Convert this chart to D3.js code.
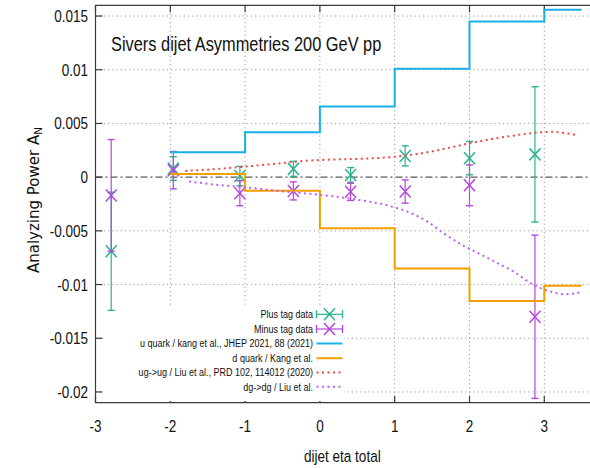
<!DOCTYPE html>
<html>
<head>
<meta charset="utf-8">
<script src="https://cdn.jsdelivr.net/npm/d3@7"></script>
<style>
  html, body { margin: 0; padding: 0; background: #fff; }
  svg { display: block; }
  text { font-family: "Liberation Sans", Arial, sans-serif; fill: #111; }
</style>
</head>
<body>
<svg id="chart" width="590" height="468"></svg>
<script>
// ---- data -------------------------------------------------------------
const xTicks = [-3, -2, -1, 0, 1, 2, 3];
const yTicks = [0.015, 0.01, 0.005, 0, -0.005, -0.01, -0.015, -0.02];
const yTickLabels = ["0.015", "0.01", "0.005", "0", "-0.005", "-0.01", "-0.015", "-0.02"];

// measured points (eta bins)
const dataEta  = [-2.79, -1.96, -1.07, -0.355, 0.41, 1.14, 2.0, 2.875];
const plusVal  = [-0.0069, 0.0008, 0.0001, 0.00077, 0.00021, 0.00198, 0.00177, 0.00212];
const plusErr  = [0.0055, 0.0011, 0.0009, 0.0007, 0.00068, 0.00093, 0.00155, 0.0063];
const minusVal = [-0.0017, 0.00065, -0.0015, -0.00128, -0.00137, -0.00134, -0.00076, -0.0130];
const minusErr = [0.0052, 0.00174, 0.00116, 0.00084, 0.0008, 0.00108, 0.0019, 0.0076];

// Kang et al. step predictions
const stepEdges = [-2, -1, 0, 1, 2, 3, 3.5];
const uQuark = [0.00232, 0.00419, 0.00657, 0.0101, 0.01449, 0.01558, 0.01558];
const dQuark = [0.00030, -0.00127, -0.00475, -0.00851, -0.01153, -0.01012, -0.01012];

// Liu et al. curves
const ugEta = [-1.8, -1.4, -1.0, -0.6, -0.2, 0.2, 0.6, 1.0, 1.3, 1.6, 2.0, 2.3, 2.6, 2.9, 3.1, 3.3, 3.45];
const ugVal = [0.00058, 0.00075, 0.00098, 0.00125, 0.00152, 0.00165, 0.00172, 0.0019, 0.00215, 0.00254, 0.00315, 0.00355, 0.00388, 0.00415, 0.00422, 0.00408, 0.00388];
const dgEta = [-1.75, -1.4, -1.0, -0.6, -0.3, 0, 0.5, 0.95, 1.2, 1.45, 1.65, 1.9, 2.18, 2.4, 2.59, 2.85, 3.08, 3.28, 3.5];
const dgVal = [-0.0004, -0.0007, -0.00095, -0.00125, -0.00145, -0.00165, -0.0021, -0.00272, -0.0033, -0.0042, -0.0052, -0.0063, -0.0073, -0.0081, -0.0088, -0.0100, -0.01065, -0.0109, -0.0107];

const legendLabels = [
  "Plus tag data",
  "Minus tag data",
  "u quark / kang et al., JHEP 2021, 88 (2021)",
  "d quark / Kang et al.",
  "ug->ug / Liu et al., PRD 102, 114012 (2020)",
  "dg->dg / Liu et al."
];

const colors = {
  plus: "#2bb48c",
  minus: "#b347e0",
  u: "#1ab0e6",
  d: "#f2a000",
  ug: "#f24848",
  dg: "#c25cf0"
};

// ---- layout ------------------------------------------------------------
const svg = d3.select("#chart");
const plotLeft = 95.5, plotTop = 5.3, plotBottom = 402.7;
const x = d3.scaleLinear().domain([-3, 3.65]).range([plotLeft, plotLeft + 6.65 * 74.8]);
const y = d3.scaleLinear().domain([-0.021, 0.016]).range([plotBottom, plotTop]);
const plotRight = x(3.65);
const squeeze = 0.82;   // condensed lettering
const place = (px, py, k = squeeze) => `translate(${px},${py}) scale(${k},1)`;

// grid
const grid = svg.append("g").attr("stroke", "#9a9a9a").attr("stroke-width", 1)
  .attr("stroke-dasharray", "1.2,3");
xTicks.filter(v => v > -3).forEach(v => {
  grid.append("line").attr("x1", x(v)).attr("x2", x(v)).attr("y1", plotTop).attr("y2", plotBottom);
});
yTicks.filter(v => v !== 0).forEach(v => {
  grid.append("line").attr("x1", plotLeft).attr("x2", plotRight).attr("y1", y(v)).attr("y2", y(v));
});

// zero axis
svg.append("line").attr("x1", plotLeft).attr("x2", plotRight).attr("y1", y(0)).attr("y2", y(0))
  .attr("stroke", "#5a5a5a").attr("stroke-width", 1.3).attr("stroke-dasharray", "7,3,2,3");

// frame and ticks
const frame = svg.append("g").attr("stroke", "#3a3a3a").attr("stroke-width", 1.2).attr("fill", "none");
frame.append("path").attr("d", `M${plotRight},${plotTop}H${plotLeft}V${plotBottom}H${plotRight}`);
const tl = 7;
yTicks.forEach(v => {
  frame.append("line").attr("x1", plotLeft).attr("x2", plotLeft + tl).attr("y1", y(v)).attr("y2", y(v));
});
xTicks.forEach(v => {
  frame.append("line").attr("x1", x(v)).attr("x2", x(v)).attr("y1", plotBottom).attr("y2", plotBottom - tl);
  frame.append("line").attr("x1", x(v)).attr("x2", x(v)).attr("y1", plotTop).attr("y2", plotTop + tl);
});

// tick labels
svg.append("g").selectAll("text").data(yTicks).join("text")
  .attr("transform", d => place(88, y(d))).attr("dy", "0.36em")
  .attr("text-anchor", "end").attr("font-size", 16.5)
  .text((d, i) => yTickLabels[i]);
svg.append("g").selectAll("text").data(xTicks).join("text")
  .attr("transform", d => place(x(d), 432))
  .attr("text-anchor", "middle").attr("font-size", 16.5)
  .text(d => String(d));

// axis titles
svg.append("text").attr("transform", place(x(0.3), 462)).attr("text-anchor", "middle")
  .attr("font-size", 16.5).text("dijet eta total");
const yl = svg.append("text")
  .attr("transform", "translate(38.5,200) rotate(-90)")
  .attr("text-anchor", "middle")
  .style("font-family", "'DejaVu Sans', sans-serif")
  .attr("font-size", 15);
yl.append("tspan").text("Analyzing Power A");
yl.append("tspan").attr("font-size", 10.5).attr("dy", 3).text("N");

// title
svg.append("text").attr("transform", place(111, 51, 0.78)).attr("font-size", 21)
  .text("Sivers dijet Asymmetries 200 GeV pp");

// opaque legend box (under the data marks)
svg.append("rect").attr("x", 103).attr("y", 306).attr("width", 241).attr("height", 95)
  .attr("fill", "#fff");

// ---- marks -------------------------------------------------------------
function errorSeries(vals, errs, color) {
  const g = svg.append("g").attr("stroke", color).attr("fill", "none");
  dataEta.forEach((e, i) => {
    const cx = x(e), cy = y(vals[i]);
    const y1 = y(vals[i] + errs[i]), y2 = y(vals[i] - errs[i]);
    g.append("line").attr("x1", cx).attr("x2", cx).attr("y1", y1).attr("y2", y2).attr("stroke-width", 1.2);
    g.append("line").attr("x1", cx - 3.5).attr("x2", cx + 3.5).attr("y1", y1).attr("y2", y1).attr("stroke-width", 1.4);
    g.append("line").attr("x1", cx - 3.5).attr("x2", cx + 3.5).attr("y1", y2).attr("y2", y2).attr("stroke-width", 1.4);
    g.append("path").attr("d", `M${cx - 5.5},${cy - 6}L${cx + 5.5},${cy + 6}M${cx - 5.5},${cy + 6}L${cx + 5.5},${cy - 6}`)
      .attr("stroke-width", 1.5);
  });
}
errorSeries(plusVal, plusErr, colors.plus);
errorSeries(minusVal, minusErr, colors.minus);

const stepLine = d3.line().x(d => x(d[0])).y(d => y(d[1])).curve(d3.curveStepAfter);
svg.append("path").datum(stepEdges.map((e, i) => [e, uQuark[i]])).attr("d", stepLine)
  .attr("fill", "none").attr("stroke", colors.u).attr("stroke-width", 2);
svg.append("path").datum(stepEdges.map((e, i) => [e, dQuark[i]])).attr("d", stepLine)
  .attr("fill", "none").attr("stroke", colors.d).attr("stroke-width", 2);

const smooth = d3.line().x(d => x(d[0])).y(d => y(d[1])).curve(d3.curveMonotoneX);
svg.append("path").datum(ugEta.map((e, i) => [e, ugVal[i]])).attr("d", smooth)
  .attr("fill", "none").attr("stroke", colors.ug).attr("stroke-width", 2).attr("stroke-dasharray", "2,3.5");
svg.append("path").datum(dgEta.map((e, i) => [e, dgVal[i]])).attr("d", smooth)
  .attr("fill", "none").attr("stroke", colors.dg).attr("stroke-width", 2).attr("stroke-dasharray", "2,3.5");

// ---- legend ------------------------------------------------------------
const legY = [314.3, 329, 343.5, 358.2, 372.5, 386.8];
const lg = svg.append("g");
legendLabels.forEach((t, i) => {
  lg.append("text").attr("transform", place(313, legY[i])).attr("dy", "0.36em")
    .attr("text-anchor", "end").attr("font-size", 11).text(t);
});
[colors.plus, colors.minus].forEach((c, i) => {
  const cy = legY[i], x1 = 316.5, x2 = 342.5, cx = (x1 + x2) / 2;
  const g = lg.append("g").attr("stroke", c).attr("fill", "none");
  g.append("line").attr("x1", x1).attr("x2", x2).attr("y1", cy).attr("y2", cy).attr("stroke-width", 1.2);
  g.append("line").attr("x1", x1).attr("x2", x1).attr("y1", cy - 4).attr("y2", cy + 4).attr("stroke-width", 1.3);
  g.append("line").attr("x1", x2).attr("x2", x2).attr("y1", cy - 4).attr("y2", cy + 4).attr("stroke-width", 1.3);
  g.append("path").attr("d", `M${cx - 5.5},${cy - 6}L${cx + 5.5},${cy + 6}M${cx - 5.5},${cy + 6}L${cx + 5.5},${cy - 6}`)
    .attr("stroke-width", 1.5);
});
[[colors.u, null], [colors.d, null], [colors.ug, "2,3.5"], [colors.dg, "2,3.5"]].forEach((s, j) => {
  const cy = legY[j + 2];
  lg.append("line").attr("x1", 316.5).attr("x2", 342.5).attr("y1", cy).attr("y2", cy)
    .attr("stroke", s[0]).attr("stroke-width", 2).attr("stroke-dasharray", s[1]);
});
</script>
</body>
</html>
